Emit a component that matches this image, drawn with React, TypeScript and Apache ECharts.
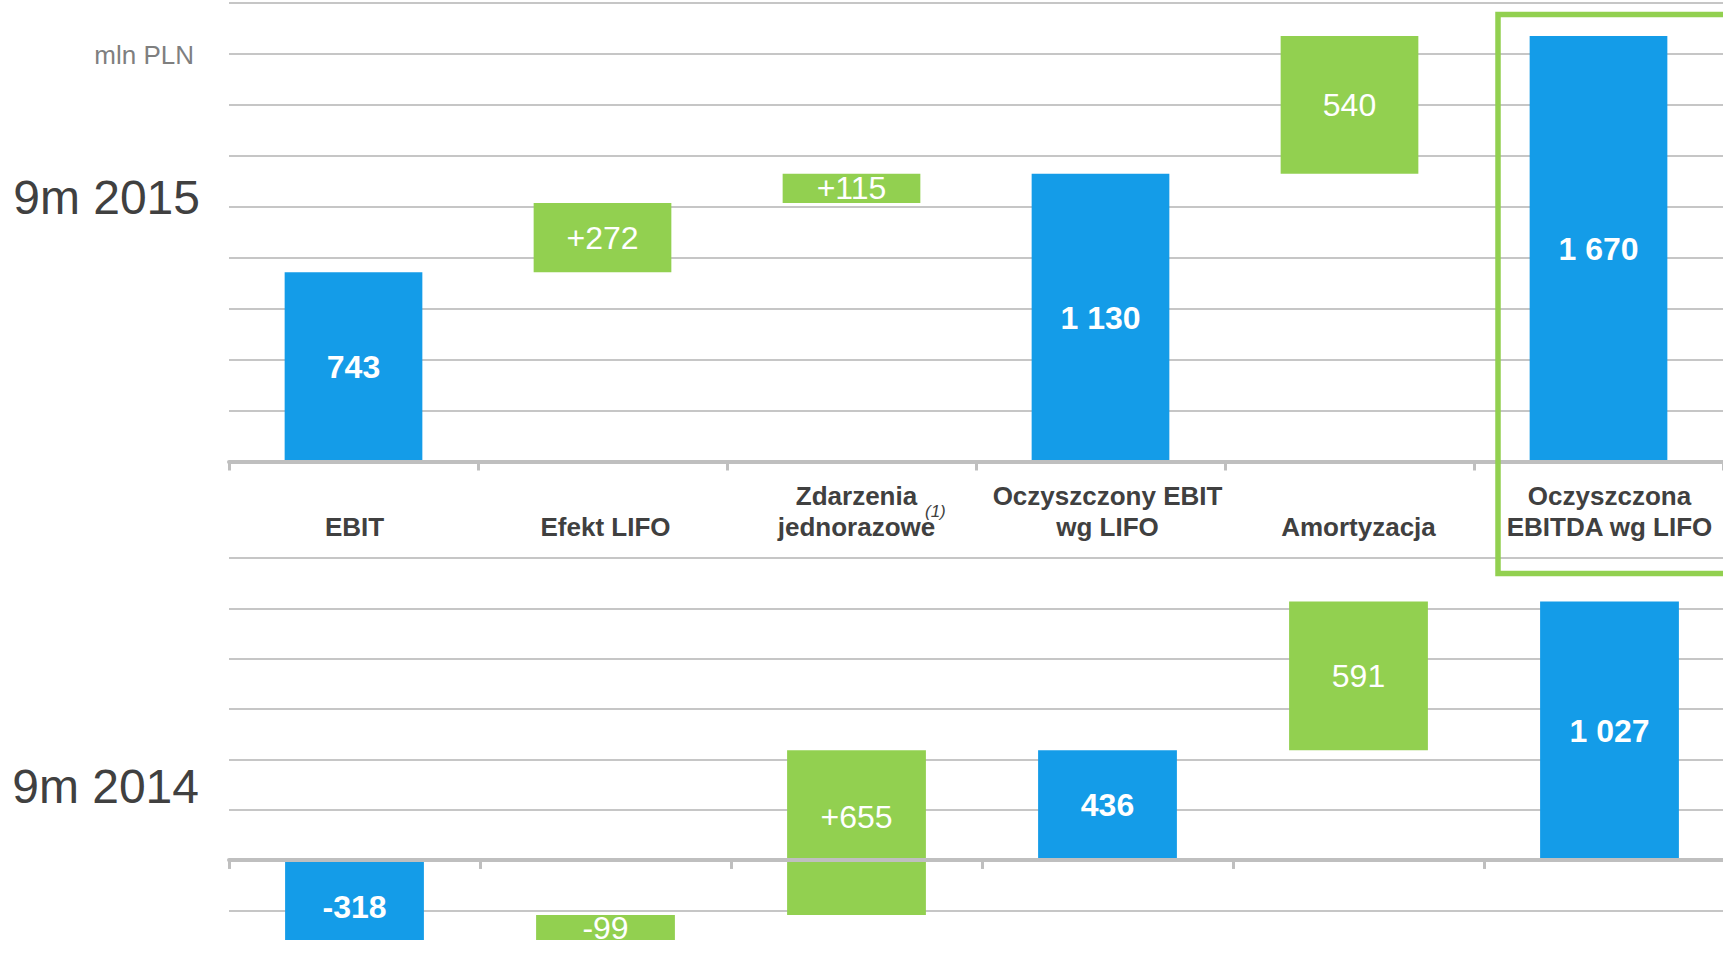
import React, { useEffect, useRef } from "react";
import * as echarts from "echarts";

const categories = [
  "EBIT",
  "Efekt LIFO",
  "Zdarzenia\njednorazowe",
  "Oczyszczony EBIT\nwg LIFO",
  "Amortyzacja",
  "Oczyszczona\nEBITDA wg LIFO",
];
const kinds = ["total", "delta", "delta", "total", "delta", "total"];

const low2015 = [0, 743, 1015, 0, 1130, 0];
const high2015 = [743, 1015, 1130, 1130, 1670, 1670];
const labels2015 = ["743", "+272", "+115", "1 130", "540", "1 670"];

const low2014 = [-318, -318, -219, 0, 436, 0];
const high2014 = [0, -219, 436, 436, 1027, 1027];
const labels2014 = ["-318", "-99", "+655", "436", "591", "1 027"];

const periodLabels = ["9m 2015", "9m 2014"];
const unitLabel = "mln PLN";

const BLUE = "#149CE8";
const GREEN = "#92D050";
const GRID_COLOR = "#C6C6C6";
const AXIS_COLOR = "#BFBFBF";
const TEXT_DARK = "#404040";
const FONT = 'Arial, "Liberation Sans", sans-serif';

const shift2015 = [[0, 0], [0, 0], [0, 0], [0, 0], [0, 0], [0, 0]];
const shift2014 = [[0, 7], [0, 0], [0, -16], [0, 0], [0, 0], [0, 0]];

function makeRender(labels: string[], shifts: number[][]) {
  return (params: any, api: any) => {
    const i = params.dataIndex;
    const a = api.coord([api.value(0), api.value(1)]);
    const b = api.coord([api.value(0), api.value(2)]);
    const w = api.size([1, 0])[0] * 0.553;
    const isTotal = kinds[i] === "total";
    return {
      type: "rect",
      shape: {
        x: a[0] - w / 2,
        y: Math.min(a[1], b[1]),
        width: w,
        height: Math.abs(a[1] - b[1]),
      },
      style: { fill: isTotal ? BLUE : GREEN },
      textContent: {
        style: {
          text: labels[i],
          fill: "#ffffff",
          font: `${isTotal ? "bold " : ""}32px ${FONT}`,
        },
      },
      textConfig: { position: "inside", offset: shifts[i] },
    };
  };
}

export default function App() {
  const ref = useRef<HTMLDivElement>(null);
  useEffect(() => {
    if (!ref.current) return;
    const chart = echarts.init(ref.current, undefined, { renderer: "svg" });
    const catAxisBase = {
      type: "category",
      data: categories,
      boundaryGap: true,
      axisLine: { show: true, onZero: true, lineStyle: { color: AXIS_COLOR, width: 4 } },
      axisTick: { show: true, alignWithLabel: false, length: 9, lineStyle: { color: AXIS_COLOR, width: 3 } },
      axisLabel: { show: false },
      splitLine: { show: false },
      z: 3,
    };
    const valAxisBase = {
      type: "value",
      interval: 200,
      axisLabel: { show: false },
      axisLine: { show: false },
      axisTick: { show: false },
      splitLine: { show: true, lineStyle: { color: GRID_COLOR, width: 2 } },
    };
    const option: any = {
      animation: false,
      grid: [
        { left: 229, width: 1494, top: 3, height: 458.5 },
        { left: 229, width: 1506, top: 558, height: 402.6 },
      ],
      xAxis: [
        { ...catAxisBase, gridIndex: 0 },
        { ...catAxisBase, gridIndex: 1 },
        {
          type: "category",
          data: categories,
          gridIndex: 1,
          position: "top",
          axisLine: { show: false },
          axisTick: { show: false },
          splitLine: { show: false },
          axisLabel: {
            show: true,
            interval: 0,
            margin: 16,
            color: TEXT_DARK,
            fontSize: 26,
            fontWeight: "bold",
            fontFamily: FONT,
            lineHeight: 31,
          },
        },
      ],
      yAxis: [
        { ...valAxisBase, gridIndex: 0, min: 0, max: 1800 },
        { ...valAxisBase, gridIndex: 1, min: -400, max: 1200 },
      ],
      series: [
        {
          type: "custom",
          xAxisIndex: 0,
          yAxisIndex: 0,
          renderItem: makeRender(labels2015, shift2015),
          data: categories.map((_, i) => [i, low2015[i], high2015[i]]),
          encode: { x: 0, y: [1, 2] },
          z: 2,
        },
        {
          type: "custom",
          xAxisIndex: 1,
          yAxisIndex: 1,
          renderItem: makeRender(labels2014, shift2014),
          data: categories.map((_, i) => [i, low2014[i], high2014[i]]),
          encode: { x: 0, y: [1, 2] },
          z: 2,
        },
      ],
      graphic: [
        {
          type: "text",
          x: 194,
          y: 55,
          style: { text: unitLabel, fill: "#7F7F7F", font: `26px ${FONT}`, textAlign: "right", textVerticalAlign: "middle" },
        },
        {
          type: "text",
          x: 200,
          y: 197,
          style: { text: periodLabels[0], fill: TEXT_DARK, font: `48px ${FONT}`, textAlign: "right", textVerticalAlign: "middle" },
        },
        {
          type: "text",
          x: 199,
          y: 786,
          style: { text: periodLabels[1], fill: TEXT_DARK, font: `48px ${FONT}`, textAlign: "right", textVerticalAlign: "middle" },
        },
        {
          type: "text",
          x: 925,
          y: 511,
          style: { text: "(1)", fill: TEXT_DARK, font: `italic 17px ${FONT}`, textAlign: "left", textVerticalAlign: "middle" },
        },
        {
          type: "rect",
          shape: { x: 1498, y: 14.5, width: 400, height: 559 },
          style: { fill: "none", stroke: GREEN, lineWidth: 5.5 },
          z: 10,
        },
      ],
    };
    chart.setOption(option);
    return () => chart.dispose();
  }, []);
  return (
    <div
      style={{ position: "absolute", left: 0, top: 0, width: "1723px", height: "957px", overflow: "hidden", background: "#fff" }}
    >
      <div ref={ref} style={{ position: "absolute", left: 0, top: 0, width: "1760px", height: "990px" }} />
    </div>
  );
}
